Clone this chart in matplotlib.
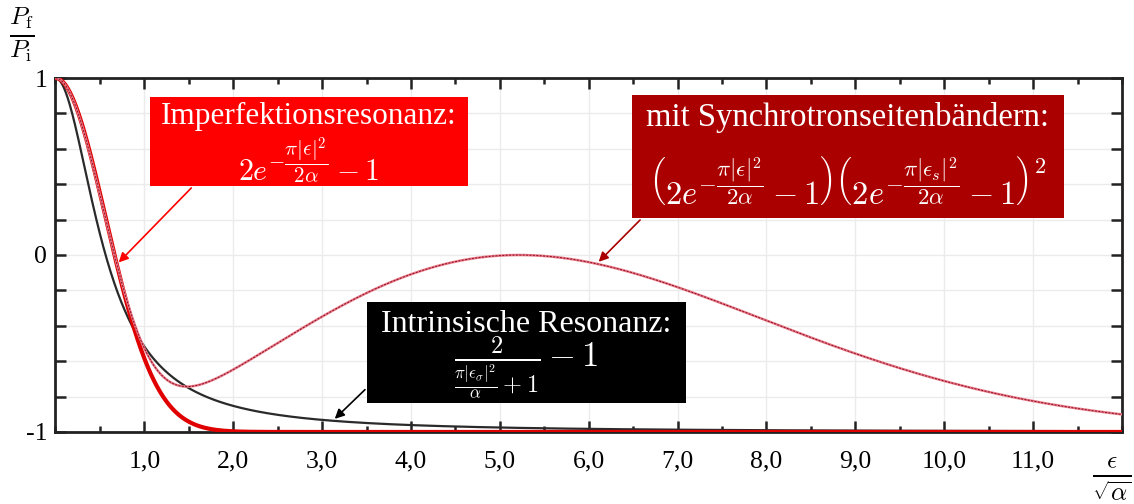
import numpy as np
import matplotlib
matplotlib.use('Agg')
import matplotlib.pyplot as plt
from matplotlib.patches import Rectangle
from matplotlib.ticker import MultipleLocator, FixedLocator, FuncFormatter

plt.rcParams['font.family'] = ['Liberation Serif', 'DejaVu Serif']
plt.rcParams['mathtext.fontset'] = 'cm'

# reduced detuning eps / sqrt(alpha)
x_min, x_max = 0.0, 12.0
x_ticks = [1, 2, 3, 4, 5, 6, 7, 8, 9, 10, 11]
y_ticks = [-1, 0, 1]
# ratio of eps to the synchrotron sideband eps_s
sideband_ratio = 7.85


def imperfection(e):
    return 2 * np.exp(-np.pi * e**2 / 2) - 1


def intrinsic(e):
    return 2 / (np.pi * e**2 + 1) - 1


def synchrotron(e):
    return imperfection(e) * imperfection(e / sideband_ratio)**2


eps = np.linspace(x_min, x_max, 1200)

fig = plt.figure(figsize=(11.34, 5.04), dpi=100)
ax = fig.add_axes([0.0489, 0.1429, 0.9405, 0.7023])

ax.plot(eps, intrinsic(eps), color='#2a2a2a', lw=1.6, zorder=3)
ax.plot(eps, imperfection(eps), color='#e00000', lw=3.0, zorder=4)
ax.plot(eps, synchrotron(eps), color='#e87888', lw=1.8, zorder=5)
ax.plot(eps, synchrotron(eps), color='#8a1020', lw=0.7, ls=(0, (2, 1.5)), zorder=6)

ax.set_xlim(x_min, x_max)
ax.set_ylim(-1, 1)
ax.xaxis.set_major_locator(FixedLocator(x_ticks))
ax.xaxis.set_minor_locator(MultipleLocator(0.5))
ax.yaxis.set_major_locator(MultipleLocator(0.2))
ax.xaxis.set_major_formatter(FuncFormatter(lambda v, p: ('%.1f' % v).replace('.', ',')))
ax.yaxis.set_major_formatter(FuncFormatter(
    lambda v, p: '%d' % round(v) if any(abs(v - t) < 1e-6 for t in y_ticks) else ''))

ax.tick_params(which='both', direction='in', top=True, right=True,
               labelsize=18.5, color='#222222', width=1.8)
ax.tick_params(axis='x', which='major', length=8, pad=13)
ax.tick_params(axis='x', which='minor', length=4)
ax.tick_params(axis='y', which='major', length=8, pad=6)
ax.grid(True, which='major', color='#ebebeb', lw=1.0, zorder=0)
for s in ax.spines.values():
    s.set_linewidth(2.0)
    s.set_color('#222222')

fig.text(0.008, 0.99, r'$\frac{P_\mathrm{f}}{P_\mathrm{i}}$', fontsize=26, va='top', ha='left')
fig.text(0.998, 0.0, r'$\frac{\epsilon}{\sqrt{\alpha}}$', fontsize=26, va='bottom', ha='right')


def label_box(x0, x1, y0, y1, color, title, formula, y_title, y_formula,
              fs_title, fs_formula, dx=0.0):
    ax.add_patch(Rectangle((x0, y0), x1 - x0, y1 - y0, fc=color, ec='none', zorder=10))
    xc = (x0 + x1) / 2
    ax.text(xc, y_title, title, ha='center', va='center', color='white',
            fontsize=fs_title, zorder=11)
    return ax.text(xc + dx, y_formula, formula, ha='center', va='center', color='white',
                   fontsize=fs_formula, zorder=11)


label_box(1.064, 4.641, 0.390, 0.893, '#ff0000', 'Imperfektionsresonanz:',
          r'$2e^{-\dfrac{\pi|\epsilon|^2}{2\alpha}}-1$', 0.78, 0.53, 22.5, 21.5)
sync = label_box(6.486, 11.345, 0.209, 0.904, '#aa0000', 'mit Synchrotronseitenbändern:',
                 r'$\left(2e^{-\dfrac{\pi|\epsilon|^2}{2\alpha}}-1\right)'
                 r'\left(2e^{-\dfrac{\pi|\epsilon_s|^2}{2\alpha}}-1\right)$',
                 0.775, 0.40, 23.5, 23.5, dx=-0.1)
# square of the second bracket, set high like a TeX exponent on a big delimiter
ax.annotate(r'$2$', xy=(1.0, 1.0), xycoords=sync, xytext=(4, -8),
            textcoords='offset points', ha='left', va='center', color='white',
            fontsize=16, zorder=11)
label_box(3.505, 7.093, -0.836, -0.266, '#000000', 'Intrinsische Resonanz:',
          r'$\frac{2}{\frac{\pi|\epsilon_\sigma|^2}{\alpha}+1}-1$', -0.39, -0.64, 23, 25)

# arrows from the boxes to their curves
arrow = dict(arrowstyle='-|>', lw=1.2, mutation_scale=14)
x_a = 0.69
ax.annotate('', xy=(x_a, imperfection(x_a)), xytext=(1.55, 0.39),
            arrowprops=dict(color='#ff0000', **arrow), zorder=9)
x_b = 6.09
ax.annotate('', xy=(x_b, synchrotron(x_b)), xytext=(6.6, 0.209),
            arrowprops=dict(color='#aa0000', **arrow), zorder=9)
x_c = 3.12
ax.annotate('', xy=(x_c, intrinsic(x_c)), xytext=(3.505, -0.75),
            arrowprops=dict(color='black', **arrow), zorder=9)

fig.savefig('out.png', dpi=100)
